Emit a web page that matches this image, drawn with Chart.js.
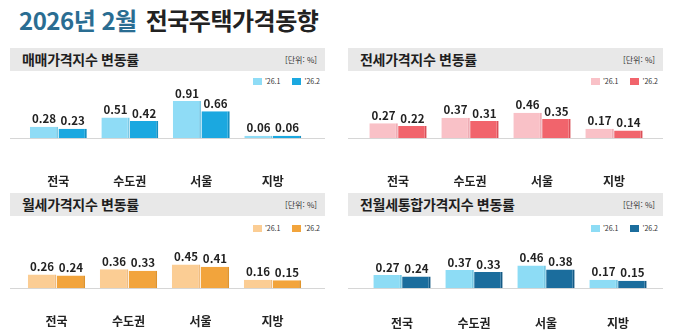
<!DOCTYPE html>
<html lang="ko">
<head>
<meta charset="utf-8">
<title>2026년 2월 전국주택가격동향</title>
<script src="https://cdn.jsdelivr.net/npm/chart.js@4.4.0/dist/chart.umd.min.js"></script>
<style>
    html, body { margin: 0; padding: 0; background: #fff; }
    body { width: 678px; height: 331px; position: relative; overflow: hidden;
           font-family: 'Noto Sans CJK KR', 'Noto Sans', sans-serif; color: #222; }
    .main-title { position: absolute; left: 19px; top: 5px; font-size: 24px; font-weight: 700;
                  letter-spacing: -0.5px; white-space: nowrap; line-height: 30px; }
    .main-title .accent { color: #2a6d92; margin-right: 9px; }
    .panel-head { position: absolute; width: 315px; height: 23px; background: #e8e8e8; }
    .panel-head .name { position: absolute; left: 12px; top: 0; line-height: 23px; font-size: 14px;
                        font-weight: 700; letter-spacing: -0.3px; color: #1e1e1e; white-space: nowrap; }
    .panel-head .unit { position: absolute; right: 8px; top: 0; line-height: 23px; font-size: 8px;
                        color: #333; white-space: nowrap; }
    .legend { position: absolute; font-size: 7px; color: #333; white-space: nowrap; line-height: 8px; }
    .legend span.item { display: inline-block; margin-left: 12px; }
    .legend i { display: inline-block; width: 9px; height: 7px; vertical-align: -1px; margin-right: 3px; }
    .chart-box { position: absolute; width: 315px; }
</style>
</head>
<body>
<div class="main-title"><span class="accent">2026년 2월</span>전국주택가격동향</div>

<script>
// ===== DATA =====
const regions = ['전국', '수도권', '서울', '지방'];
const seriesLabels = ["'26.1", "'26.2"];

const saleJan = [0.28, 0.51, 0.91, 0.06];
const saleFeb = [0.23, 0.42, 0.66, 0.06];

const jeonseJan = [0.27, 0.37, 0.46, 0.17];
const jeonseFeb = [0.22, 0.31, 0.35, 0.14];

const rentJan = [0.26, 0.36, 0.45, 0.16];
const rentFeb = [0.24, 0.33, 0.41, 0.15];

const mixedJan = [0.27, 0.37, 0.46, 0.17];
const mixedFeb = [0.24, 0.33, 0.38, 0.15];

// ===== PANEL LAYOUT =====
const panels = [
    { title: '매매가격지수 변동률', jan: saleJan, feb: saleFeb,
      fill: ['#8fdcf6', '#1ba8e0'], edge: ['#7bc9e5', '#1690c2'],
      x: 10, headTop: 48, legendTop: 77, legendRight: 358,
      canvasTop: 72, canvasH: 120, pad: { top: 16, bottom: 3.6, left: 10.5, right: 16.5 }, tickPad: 36, yMax: 1.23 },
    { title: '전세가격지수 변동률', jan: jeonseJan, feb: jeonseFeb,
      fill: ['#f9c1c7', '#f1646c'], edge: ['#eeadb5', '#da5059'],
      x: 348, headTop: 48, legendTop: 77, legendRight: 20,
      canvasTop: 72, canvasH: 120, pad: { top: 16, bottom: 3.6, left: 14, right: 13 }, tickPad: 36, yMax: 0.91 },
    { title: '월세가격지수 변동률', jan: rentJan, feb: rentFeb,
      fill: ['#fbcd94', '#f2a43c'], edge: ['#f0bd80', '#e0942c'],
      x: 10, headTop: 193, legendTop: 224, legendRight: 358,
      canvasTop: 217, canvasH: 120, pad: { top: 26, bottom: 3.6, left: 10.5, right: 16.5 }, tickPad: 26, yMax: 0.86 },
    { title: '전월세통합가격지수 변동률', jan: mixedJan, feb: mixedFeb,
      fill: ['#8ddcf5', '#1b6d9d'], edge: ['#78c8e4', '#155a85'],
      x: 348, headTop: 193, legendTop: 224, legendRight: 20,
      canvasTop: 217, canvasH: 120, pad: { top: 26, bottom: 3.6, left: 18, right: 9 }, tickPad: 28, yMax: 0.92 }
];

// ===== PLUGIN: BASELINE + VALUE LABELS =====
const barDecor = {
    id: 'barDecor',
    beforeDatasetsDraw(chart) {
        const ctx = chart.ctx;
        const y0 = Math.round(chart.scales.y.getPixelForValue(0)) + 0.5;
        ctx.save();
        ctx.strokeStyle = '#d6d6d6';
        ctx.lineWidth = 1;
        ctx.beginPath();
        ctx.moveTo(0, y0);
        ctx.lineTo(chart.width, y0);
        ctx.stroke();
        ctx.restore();
    },
    afterDatasetsDraw(chart) {
        const ctx = chart.ctx;
        ctx.save();
        ctx.font = "700 11.5px 'Noto Sans CJK KR', sans-serif";
        ctx.fillStyle = '#222';
        ctx.textAlign = 'center';
        ctx.textBaseline = 'bottom';
        chart.data.datasets.forEach((ds, i) => {
            chart.getDatasetMeta(i).data.forEach((bar, j) => {
                ctx.fillText(ds.data[j].toFixed(2), bar.x, bar.y - 2);
            });
        });
        ctx.restore();
    }
};

function buildPanel(p) {
    // header strip
    const head = document.createElement('div');
    head.className = 'panel-head';
    head.style.left = p.x + 'px';
    head.style.top = p.headTop + 'px';
    head.innerHTML = `<span class="name">${p.title}</span><span class="unit">[단위: %]</span>`;
    document.body.appendChild(head);

    // legend
    const legend = document.createElement('div');
    legend.className = 'legend';
    legend.style.top = p.legendTop + 'px';
    legend.style.right = p.legendRight + 'px';
    legend.innerHTML = seriesLabels
        .map((lbl, i) => `<span class="item"><i style="background:${p.fill[i]}"></i>${lbl}</span>`)
        .join('');
    document.body.appendChild(legend);

    // chart
    const box = document.createElement('div');
    box.className = 'chart-box';
    box.style.left = p.x + 'px';
    box.style.top = p.canvasTop + 'px';
    box.style.height = p.canvasH + 'px';
    const canvas = document.createElement('canvas');
    box.appendChild(canvas);
    document.body.appendChild(box);

    const series = [p.jan, p.feb];
    return new Chart(canvas, {
        type: 'bar',
        data: {
            labels: regions,
            datasets: series.map((values, i) => ({
                label: seriesLabels[i],
                data: values,
                backgroundColor: p.fill[i],
                borderColor: p.edge[i],
                borderWidth: { top: 0, right: 2, bottom: 0, left: 0 },
                borderSkipped: 'start',
                barPercentage: 0.99,
                categoryPercentage: 0.8
            }))
        },
        options: {
            responsive: true,
            maintainAspectRatio: false,
            animation: false,
            layout: { padding: p.pad },
            plugins: {
                legend: { display: false },
                tooltip: { enabled: false }
            },
            scales: {
                x: {
                    grid: { display: false, drawTicks: false },
                    border: { display: false },
                    ticks: {
                        padding: p.tickPad,
                        color: '#222',
                        font: { family: "'Noto Sans CJK KR', sans-serif", size: 12, weight: '700' }
                    }
                },
                y: {
                    display: false,
                    min: 0,
                    max: p.yMax
                }
            }
        },
        plugins: [barDecor]
    });
}

panels.forEach(buildPanel);
</script>
</body>
</html>
